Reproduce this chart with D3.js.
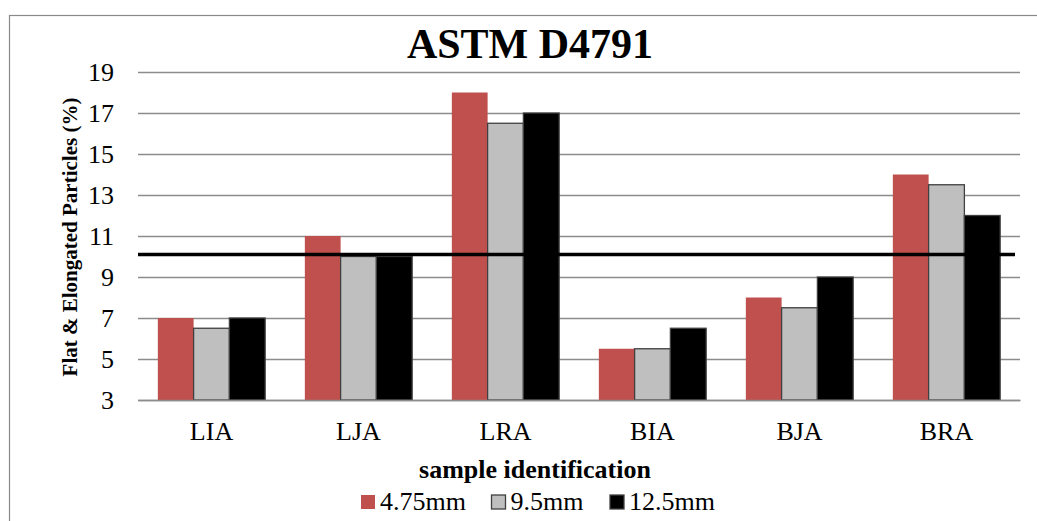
<!DOCTYPE html>
<html>
<head>
<meta charset="utf-8">
<script src="https://cdn.jsdelivr.net/npm/d3@7"></script>
<style>
  body { margin: 0; background: #fff; }
  svg { display: block; font-family: "Liberation Serif", "Times New Roman", serif; }
</style>
</head>
<body>
<div id="chart"></div>
<script>
// data
const categories = ['LIA', 'LJA', 'LRA', 'BIA', 'BJA', 'BRA'];
const seriesNames = ['4.75mm', '9.5mm', '12.5mm'];
const values475 = [7, 11, 18, 5.5, 8, 14];
const values95 = [6.5, 10, 16.5, 5.5, 7.5, 13.5];
const values125 = [7, 10, 17, 6.5, 9, 12];
const yTicks = [3, 5, 7, 9, 11, 13, 15, 17, 19];
const limitValue = 10.1;

const colors = ['#C0504D', '#BFBFBF', '#000000'];
const strokes = ['none', '#404040', '#404040'];

const width = 1037, height = 521;
const margin = {top: 72, right: 17, bottom: 121, left: 138};
const plotW = width - margin.left - margin.right;
const plotH = height - margin.top - margin.bottom;

const svg = d3.select('#chart').append('svg')
  .attr('width', width)
  .attr('height', height);

// outer frame (runs off the right and bottom edges)
svg.append('rect')
  .attr('x', 9.5)
  .attr('y', 15.5)
  .attr('width', 1100)
  .attr('height', 600)
  .attr('fill', 'none')
  .attr('stroke', '#8a8a8a')
  .attr('stroke-width', 1.2);

const g = svg.append('g')
  .attr('transform', 'translate(' + margin.left + ',' + margin.top + ')');

const x = d3.scaleBand()
  .domain(categories)
  .range([0, plotW])
  .paddingInner(0.27)
  .paddingOuter(0.135);

const xSub = d3.scaleBand()
  .domain(seriesNames)
  .range([0, x.bandwidth()]);

const y = d3.scaleLinear()
  .domain([3, 19])
  .range([plotH, 0]);

// grid lines
const yAxis = d3.axisLeft(y)
  .tickValues(yTicks)
  .tickSize(-plotW)
  .tickPadding(24)
  .tickFormat(d3.format('d'));

const yG = g.append('g')
  .attr('class', 'axis axis--y')
  .call(yAxis);
yG.select('.domain').remove();
yG.selectAll('.tick line')
  .attr('stroke', '#8c8c8c')
  .attr('stroke-width', 1.3);
yG.selectAll('.tick text')
  .attr('font-family', '"Liberation Serif", serif')
  .attr('font-size', '26px')
  .attr('fill', '#000')
  .attr('dy', '0.33em');

// bars
const table = categories.map((c, i) => ({
  key: c,
  values: [values475[i], values95[i], values125[i]]
}));

const groups = g.append('g')
  .attr('class', 'bars')
  .selectAll('g')
  .data(table)
  .enter().append('g')
    .attr('transform', d => 'translate(' + x(d.key) + ',0)');

groups.selectAll('rect')
  .data(d => d.values.map((v, j) => ({series: seriesNames[j], value: v, j: j})))
  .enter().append('rect')
    .attr('x', d => xSub(d.series))
    .attr('y', d => y(d.value))
    .attr('width', xSub.bandwidth())
    .attr('height', d => plotH - y(d.value))
    .attr('fill', d => colors[d.j])
    .attr('stroke', d => strokes[d.j])
    .attr('stroke-width', 1.3);

// x axis
const xAxis = d3.axisBottom(x).tickSize(0).tickPadding(22);
const xG = g.append('g')
  .attr('class', 'axis axis--x')
  .attr('transform', 'translate(0,' + plotH + ')')
  .call(xAxis);
xG.select('.domain')
  .attr('stroke', '#8c8c8c')
  .attr('stroke-width', 1.3);
xG.selectAll('.tick text')
  .attr('font-family', '"Liberation Serif", serif')
  .attr('font-size', '26px')
  .attr('fill', '#000')
  .attr('dy', '0.71em');

// limit line
g.append('line')
  .attr('x1', 0)
  .attr('x2', plotW - 5)
  .attr('y1', y(limitValue))
  .attr('y2', y(limitValue))
  .attr('stroke', '#000')
  .attr('stroke-width', 3.5);

// title
svg.append('text')
  .attr('x', 530)
  .attr('y', 58)
  .attr('text-anchor', 'middle')
  .attr('font-size', '42px')
  .attr('font-weight', 'bold')
  .text('ASTM D4791');

// axis titles
svg.append('text')
  .attr('x', 535)
  .attr('y', 478)
  .attr('text-anchor', 'middle')
  .attr('font-size', '26px')
  .attr('font-weight', 'bold')
  .text('sample identification');

svg.append('text')
  .attr('transform', 'translate(76.5,237) rotate(-90)')
  .attr('text-anchor', 'middle')
  .attr('font-size', '21px')
  .attr('font-weight', 'bold')
  .text('Flat & Elongated Particles (%)');

// legend
const legendX = [361, 491.5, 610];
const legend = svg.append('g')
  .attr('class', 'legends')
  .attr('transform', 'translate(0,495)');

const items = legend.selectAll('g')
  .data(seriesNames)
  .enter().append('g')
    .attr('class', 'legend')
    .attr('transform', (d, i) => 'translate(' + legendX[i] + ',0)');

items.append('rect')
  .attr('width', 14)
  .attr('height', 14)
  .attr('fill', (d, i) => colors[i])
  .attr('stroke', (d, i) => strokes[i])
  .attr('stroke-width', 1.3);

items.append('text')
  .attr('x', 19)
  .attr('y', 14.5)
  .attr('font-size', '26px')
  .text(d => d);
</script>
</body>
</html>
